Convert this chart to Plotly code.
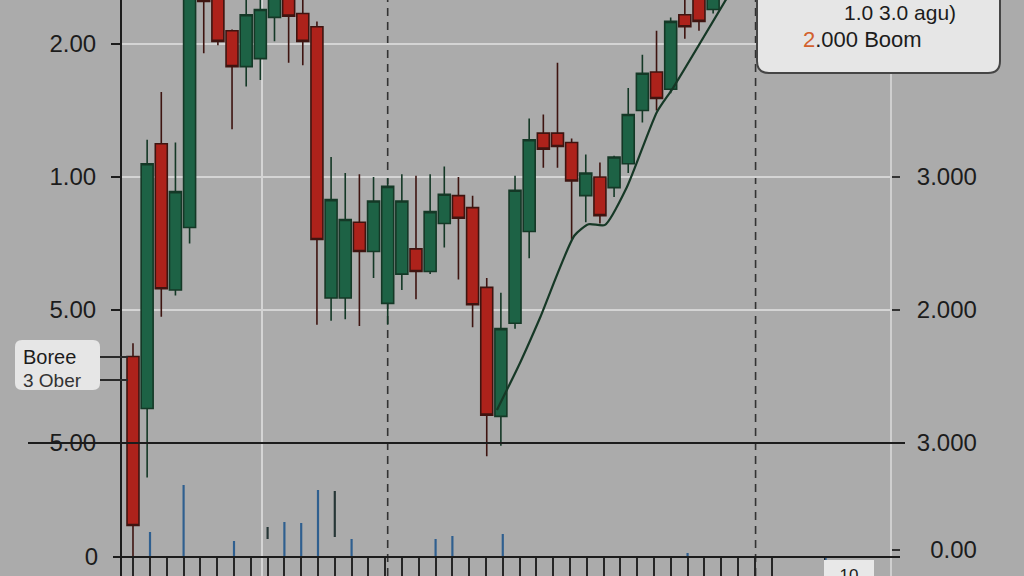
import plotly.graph_objects as go

# ---------------- data ----------------
candle_idx = list(range(42))
opens = [1.65, 1.26, 3.25, 2.15, 2.62, 4.45, 4.40, 4.10, 3.83, 3.89,
         4.20, 4.40, 4.23, 4.13, 2.09, 2.09, 2.66, 2.44, 2.05, 2.27,
         2.46, 2.29, 2.65, 2.86, 2.77, 2.17, 1.20, 1.90, 2.59, 3.33,
         3.33, 3.26, 2.86, 3.00, 2.92, 3.10, 3.50, 3.79, 3.66, 4.22,
         4.40, 4.26]
highs = [1.75, 3.28, 3.64, 3.26, 4.50, 4.50, 4.45, 4.11, 4.36, 4.38,
         4.45, 4.45, 4.38, 4.17, 3.15, 3.03, 3.02, 3.00, 2.99, 3.02,
         3.01, 3.02, 3.08, 3.00, 2.86, 2.24, 2.13, 3.01, 3.44, 3.47,
         3.86, 3.29, 3.17, 3.11, 3.16, 3.67, 3.92, 4.10, 4.20, 4.40,
         4.45, 4.45]
lows = [-0.10, 0.74, 1.95, 2.11, 2.50, 3.93, 3.99, 3.36, 3.68, 3.73,
        4.02, 3.86, 3.84, 1.89, 1.92, 1.93, 1.88, 2.24, 1.89, 2.15,
        2.08, 2.27, 2.47, 2.23, 1.87, 0.90, 0.98, 1.86, 2.39, 3.07,
        3.07, 2.53, 2.66, 2.65, 2.85, 3.03, 3.41, 3.50, 3.63, 4.04,
        4.10, 4.23]
closes = [0.38, 3.10, 2.16, 2.89, 4.40, 4.32, 4.02, 3.83, 4.22, 4.26,
          4.40, 4.21, 4.02, 2.53, 2.83, 2.68, 2.44, 2.82, 2.93, 2.82,
          2.29, 2.74, 2.87, 2.69, 2.04, 1.21, 1.86, 2.90, 3.28, 3.21,
          3.23, 2.97, 3.03, 2.71, 3.15, 3.47, 3.78, 3.59, 4.17, 4.13,
          4.17, 4.40]

trend_x = [25.72, 27.35, 28.76, 31.20, 32.20, 33.36, 34.91, 37.03, 38.16, 42.5]
trend_y = [1.248, 1.602, 1.940, 2.560, 2.645, 2.640, 2.925, 3.489, 3.669, 4.44]

vol_idx = [0, 2, 5, 7, 8, 9, 10, 11, 12, 17, 18, 21, 32]
vol_top = [25, 72, 16, 30, 35, 34, 67, 66, 18, 18, 21, 23, 4]
vol_base = [0, 0, 0, 18, 0, 0, 0, 20, 0, 0, 0, 0, 0]
vol_kind = ["b", "b", "b", "d", "b", "b", "b", "d", "b", "b", "b", "b", "b"]
vol_ticks = list(range(-1, 38)) + [40.2]

left_tickvals = [4, 3, 2, 1]
left_ticktext = ["2.00", "1.00", "5.00", "5.00"]
right_tickvals = [3, 2, 1, 0.195]
right_ticktext = ["3.000", "2.000", "3.000", "\u00a0\u00a00.00"]
zero_tickvals = [0]
zero_ticktext = ["0"]
grid_x = [9.12]
dash_x = [18, 44]

# ---------------- layout helpers ----------------
W, H = 1024, 576
PL, PR, PT, PB = 122, 890, 0, 576
FONT = "Liberation Sans, Arial, sans-serif"
INK = "#1c1c1c"
BG = "#ababab"
GRID = "#d4d4d4"


def fx(px):
    return (px - PL) / (PR - PL)


def fy(py):
    return (PB - py) / (PB - PT)


def rrect(x0, y0, x1, y1, r):
    pts = [
        ("M", [(x0 + r, y0)]),
        ("L", [(x1 - r, y0)]),
        ("Q", [(x1, y0), (x1, y0 + r)]),
        ("L", [(x1, y1 - r)]),
        ("Q", [(x1, y1), (x1 - r, y1)]),
        ("L", [(x0 + r, y1)]),
        ("Q", [(x0, y1), (x0, y1 - r)]),
        ("L", [(x0, y0 + r)]),
        ("Q", [(x0, y0), (x0 + r, y0)]),
    ]
    s = ""
    for cmd, ps in pts:
        s += cmd + " " + " ".join(f"{fx(a):.5f},{fy(b):.5f}" for a, b in ps) + " "
    return s + "Z"


fig = go.Figure()

fig.add_trace(go.Candlestick(
    x=candle_idx, open=opens, high=highs, low=lows, close=closes,
    increasing=dict(line=dict(color="#143826", width=1.6), fillcolor="#1d6245"),
    decreasing=dict(line=dict(color="#3e1410", width=1.6), fillcolor="#ad221b"),
    whiskerwidth=0, showlegend=False, hoverinfo="skip",
))

# trend line drawn against the right-hand axis (same range as the left one)
fig.add_trace(go.Scatter(
    x=trend_x, y=trend_y, mode="lines", yaxis="y2",
    line=dict(color="#163826", width=2.2, shape="spline", smoothing=0.6),
    showlegend=False, hoverinfo="skip",
))

vol_col = {"b": "#2f5f8f", "d": "#263636"}
fig.add_trace(go.Bar(
    x=vol_idx, y=[t - b for t, b in zip(vol_top, vol_base)], base=vol_base,
    xaxis="x2", yaxis="y3", width=0.13,
    marker=dict(color=[vol_col[k] for k in vol_kind], line=dict(width=0)),
    showlegend=False, hoverinfo="skip",
))

shapes = []
for dx in dash_x:
    shapes.append(dict(type="line", xref="x", yref="paper", x0=dx, x1=dx, y0=0, y1=1,
                       line=dict(color="#333333", width=1.6, dash="8px,6px"), layer="below"))
shapes.append(dict(type="line", xref="paper", yref="paper", x0=fx(28), x1=fx(905),
                   y0=fy(443), y1=fy(443), line=dict(color=INK, width=2), layer="above"))
shapes.append(dict(type="line", xref="paper", yref="paper", x0=fx(113), x1=fx(900),
                   y0=fy(557), y1=fy(557), line=dict(color=INK, width=2), layer="above"))
shapes.append(dict(type="path", xref="paper", yref="paper", path=rrect(757, -14, 1000, 73, 12),
                   fillcolor="#e6e6e6", line=dict(color="#454545", width=2), layer="above"))
shapes.append(dict(type="path", xref="paper", yref="paper", path=rrect(15, 340, 100, 390, 7),
                   fillcolor="#e6e6e6", line=dict(width=0), layer="above"))
for cy in (357, 380):
    shapes.append(dict(type="line", xref="paper", yref="paper", x0=fx(100), x1=fx(128),
                       y0=fy(cy), y1=fy(cy), line=dict(color="#2a2a2a", width=2), layer="above"))
shapes.append(dict(type="line", xref="paper", yref="paper", x0=fx(826), x1=fx(826),
                   y0=fy(558), y1=fy(580), line=dict(color="#3a6ea5", width=1.5), layer="above"))

annotations = [
    dict(xref="paper", yref="paper", x=fx(958), y=fy(13), xanchor="right", yanchor="middle",
         text="1.0 3.0 agu)", showarrow=False, font=dict(family=FONT, size=21, color=INK)),
    dict(xref="paper", yref="paper", x=fx(801), y=fy(40), xanchor="left", yanchor="middle",
         text="<span style='color:#d2612e'>2</span>.000 Boom", showarrow=False,
         font=dict(family=FONT, size=22, color=INK)),
    dict(xref="paper", yref="paper", x=fx(21), y=fy(357), xanchor="left", yanchor="middle",
         text="Boree", showarrow=False, font=dict(family=FONT, size=20, color=INK)),
    dict(xref="paper", yref="paper", x=fx(21), y=fy(380), xanchor="left", yanchor="middle",
         text="3 Ober", showarrow=False, font=dict(family=FONT, size=19, color="#333333")),
    dict(xref="paper", yref="paper", x=fx(849), y=fy(560), xanchor="center", yanchor="top",
         text="10", showarrow=False, font=dict(family=FONT, size=17, color=INK),
         bgcolor="#e8e8e8", bordercolor="#e8e8e8", borderpad=2, width=44, height=24),
]

fig.update_layout(
    width=W, height=H,
    margin=dict(l=PL, r=W - PR, t=PT, b=H - PB, autoexpand=False),
    paper_bgcolor=BG, plot_bgcolor=BG,
    font=dict(family=FONT, color=INK, size=24),
    boxgap=0.08, boxgroupgap=0.08, barmode="overlay",
    showlegend=False,
    xaxis=dict(range=[-0.777, 53.5], tickvals=grid_x, showticklabels=False, ticks="",
               showgrid=True, gridcolor=GRID, gridwidth=2, zeroline=False, showline=False,
               rangeslider=dict(visible=False), fixedrange=True),
    xaxis2=dict(range=[-1.667, 44.05], overlaying="x", anchor="free", position=19 / 576,
                tickvals=vol_ticks, showticklabels=False, ticks="outside", ticklen=19,
                tickwidth=2, tickcolor="#262626", showgrid=False, zeroline=False, showline=False),
    yaxis=dict(range=[0, 4.331], tickvals=left_tickvals, ticktext=left_ticktext,
               ticks="outside", ticklen=9, tickwidth=2, tickcolor=INK, ticklabelstandoff=10,
               showline=True, linecolor=INK, linewidth=2, showgrid=True, gridcolor=GRID,
               gridwidth=2, zeroline=False, tickfont=dict(size=24, color=INK)),
    yaxis2=dict(range=[0, 4.331], overlaying="y", side="right", anchor="x",
                tickvals=right_tickvals, ticktext=right_ticktext, ticks="outside", ticklen=8,
                tickwidth=2, tickcolor="#333333", ticklabelstandoff=12,
                showline=True, linecolor="#cfcfcf", linewidth=2, showgrid=False, zeroline=False,
                tickfont=dict(size=24, color=INK)),
    yaxis3=dict(range=[-19, 557], overlaying="y", side="left", anchor="free", position=0,
                tickvals=zero_tickvals, ticktext=zero_ticktext, ticks="outside", ticklen=9,
                tickwidth=2, tickcolor=INK, ticklabelstandoff=10, showgrid=False,
                zeroline=False, showline=False, tickfont=dict(size=24, color=INK)),
    shapes=shapes, annotations=annotations,
)

fig.write_html("out.html", config={"displayModeBar": False},
               post_script="document.body.style.margin='0';document.body.style.overflow='hidden';")
